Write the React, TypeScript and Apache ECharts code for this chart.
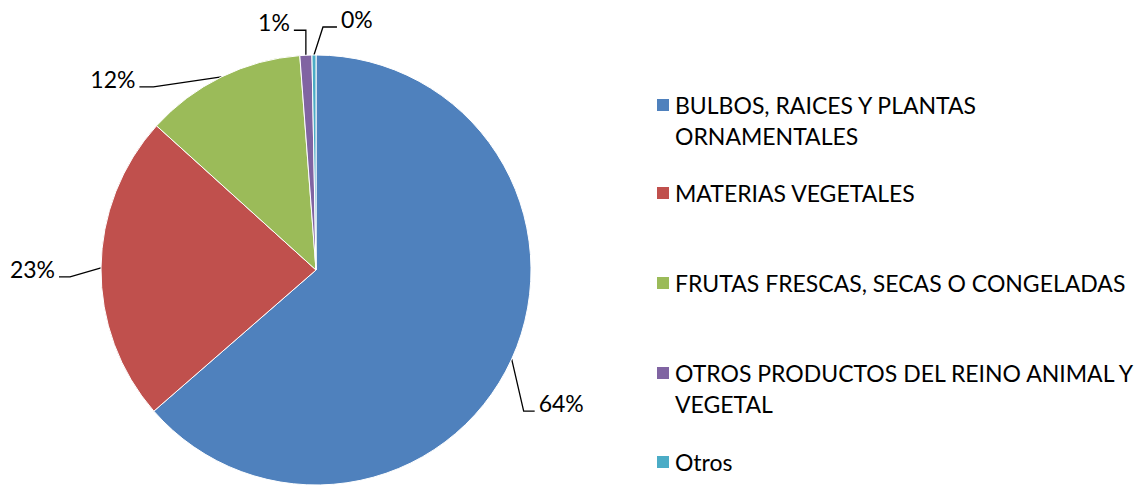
import React, { useEffect, useRef } from 'react';
import * as echarts from 'echarts';

const categories = [
  'BULBOS, RAICES Y PLANTAS ORNAMENTALES',
  'MATERIAS VEGETALES',
  'FRUTAS FRESCAS, SECAS O CONGELADAS',
  'OTROS PRODUCTOS DEL REINO ANIMAL Y VEGETAL',
  'Otros',
];
const shares = [63.6, 23.1, 12.1, 0.9, 0.3];
const legendText: Record<string, string> = {
  'BULBOS, RAICES Y PLANTAS ORNAMENTALES': '\nBULBOS, RAICES Y PLANTAS\nORNAMENTALES',
  'OTROS PRODUCTOS DEL REINO ANIMAL Y VEGETAL': '\nOTROS PRODUCTOS DEL REINO ANIMAL Y\nVEGETAL',
};
const colors = ['#4F81BD', '#C0504D', '#9BBB59', '#8064A2', '#4BACC6'];

// layout: leader-line bend (dx, dy from slice edge) and horizontal run
const labelBend = [
  [12, 52, 11],
  [-31, 9, -11],
  [-68, 10, -14],
  [0, -25, -12],
  [9, -28, 14],
];
const legendMid = [105, 193, 283, 373, 462];

const FONT = 'Lato, Carlito, Calibri, sans-serif';

export default function App() {
  const ref = useRef<HTMLDivElement>(null);
  useEffect(() => {
    if (!ref.current) return;
    const chart = echarts.init(ref.current, undefined, { renderer: 'svg' });
    const lineH = 31;
    const legends = categories.map((name, i) => {
      const lines = (legendText[name] || name).split('\n').length;
      return {
        data: [name],
        orient: 'vertical',
        left: 655,
        top: legendMid[i] - (lines * lineH) / 2,
        padding: 0,
        itemWidth: 14,
        itemHeight: 14,
        itemGap: 0,
        icon: 'rect',
        selectedMode: false,
        formatter: (n: string) => legendText[n] || n,
        textStyle: { fontFamily: FONT, fontSize: 23, color: '#000', lineHeight: lineH },
      };
    });
    chart.setOption({
      animation: false,
      backgroundColor: '#fff',
      color: colors,
      legend: legends,
      series: [
        {
          type: 'pie',
          center: [316, 270],
          radius: 215,
          startAngle: 90,
          clockwise: true,
          avoidLabelOverlap: false,
          itemStyle: { borderColor: '#fff', borderWidth: 1 },
          label: {
            show: true,
            position: 'outside',
            formatter: (p: any) => Math.round(p.percent) + '%',
            fontFamily: FONT,
            fontSize: 23,
            color: '#000',
          },
          labelLine: {
            show: true,
            length: 10,
            length2: 10,
            lineStyle: { color: '#000', width: 1.3 },
          },
          labelLayout: (params: any) => {
            const i = params.dataIndex;
            const pts = params.labelLinePoints;
            if (!pts || !pts[0]) return {};
            const p0 = pts[0];
            const b = labelBend[i];
            const elbow = [p0[0] + b[0], p0[1] + b[1]];
            const end = [elbow[0] + b[2], elbow[1]];
            const sign = b[2] > 0 ? 1 : -1;
            return {
              x: end[0] + sign * 4,
              y: elbow[1] - 8,
              align: sign > 0 ? 'left' : 'right',
              verticalAlign: 'middle',
              labelLinePoints: [p0, elbow, end],
            };
          },
          data: categories.map((name, i) => ({ name, value: shares[i] })),
        },
      ],
    });
    return () => chart.dispose();
  }, []);
  return (
    <div
      ref={ref}
      style={{ position: 'fixed', left: 0, top: 0, width: 1140, height: 485 }}
    />
  );
}
